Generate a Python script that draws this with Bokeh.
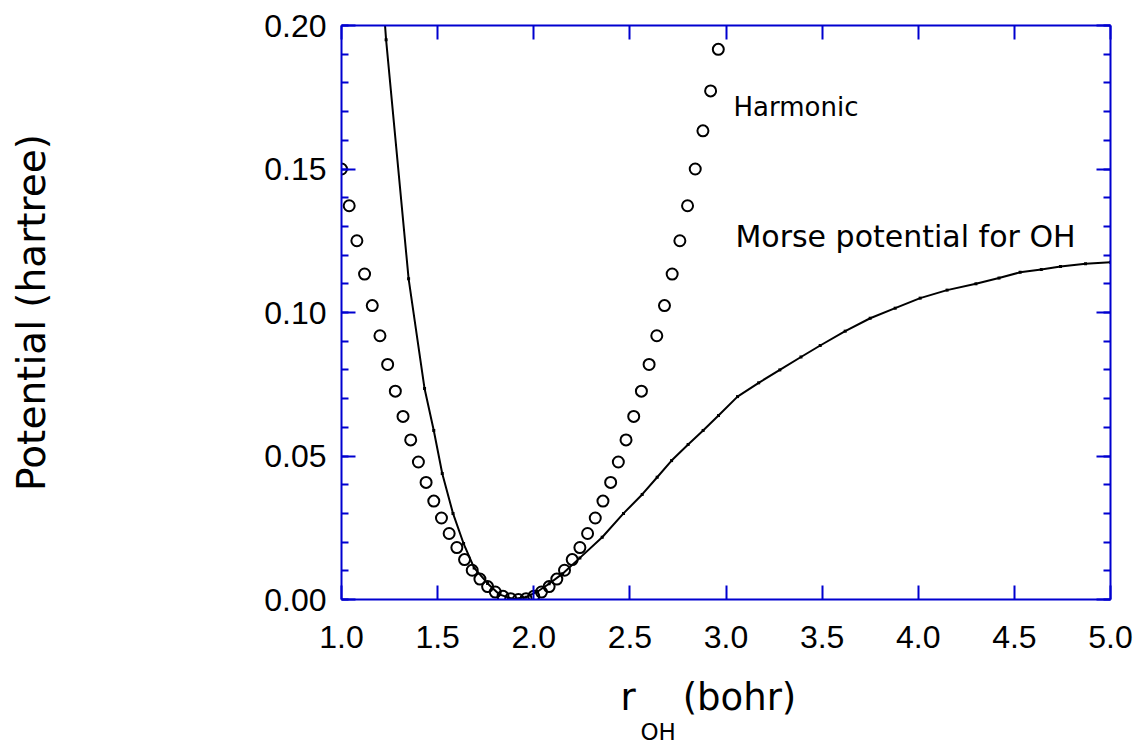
import math
from bokeh.plotting import figure
from bokeh.models import (Range1d, LinearAxis, SingleIntervalTicker, PrintfTickFormatter, Label, Title, ColumnDataSource)
from bokeh.embed import file_html
from bokeh.resources import INLINE

# Harmonic approximation (open circles)
harm_r = [1.00, 1.04, 1.08, 1.12, 1.16, 1.20, 1.24, 1.28, 1.32, 1.36,
          1.40, 1.44, 1.48, 1.52, 1.56, 1.60, 1.64, 1.68, 1.72, 1.76,
          1.80, 1.84, 1.88, 1.92, 1.96, 2.00, 2.04, 2.08, 2.12, 2.16,
          2.20, 2.24, 2.28, 2.32, 2.36, 2.40, 2.44, 2.48, 2.52, 2.56,
          2.60, 2.64, 2.68, 2.72, 2.76, 2.80, 2.84, 2.88, 2.92, 2.96]
harm_v = [0.1500, 0.1372, 0.1250, 0.1134, 0.1024, 0.0919, 0.0819, 0.0726, 0.0638, 0.0556,
          0.0479, 0.0408, 0.0343, 0.0284, 0.0230, 0.0181, 0.0139, 0.0102, 0.0071, 0.0045,
          0.0026, 0.0011, 0.0003, 0.0000, 0.0003, 0.0011, 0.0026, 0.0045, 0.0071, 0.0102,
          0.0139, 0.0181, 0.0230, 0.0284, 0.0343, 0.0408, 0.0479, 0.0556, 0.0638, 0.0726,
          0.0819, 0.0919, 0.1024, 0.1134, 0.1250, 0.1372, 0.1500, 0.1633, 0.1772, 0.1917]

# Morse potential for OH (line)
morse_r = [1.200, 1.232, 1.349, 1.432, 1.480, 1.524, 1.580, 1.635, 1.690, 1.760,
           1.820, 1.890, 1.960, 2.020, 2.080, 2.150, 2.240, 2.356, 2.467, 2.564,
           2.642, 2.717, 2.803, 2.881, 2.961, 3.060, 3.170, 3.280, 3.390, 3.490,
           3.620, 3.750, 3.880, 4.010, 4.150, 4.300, 4.420, 4.530, 4.640, 4.740,
           4.870, 5.000]
morse_v = [0.2240, 0.1950, 0.1118, 0.0735, 0.0589, 0.0439, 0.0300, 0.0195, 0.0110, 0.0056,
           0.0018, 0.0002, 0.0008, 0.0028, 0.0055, 0.0090, 0.0145, 0.0217, 0.0300, 0.0366,
           0.0426, 0.0484, 0.0540, 0.0589, 0.0641, 0.0707, 0.0755, 0.0800, 0.0845, 0.0885,
           0.0935, 0.0980, 0.1015, 0.1050, 0.1078, 0.1100, 0.1120, 0.1140, 0.1150, 0.1160,
           0.1170, 0.1175]

x_ticks_interval = 0.5
y_ticks_interval = 0.05

BLUE = "#0000D0"
TICK_FONT = "Liberation Sans"
TEXT_FONT = "DejaVu Sans"
NB = "\u00a0"

p = figure(width=1136, height=743, output_backend="svg", toolbar_location=None,
           x_range=Range1d(1.0, 5.0), y_range=Range1d(0.0, 0.20),
           min_border_left=341, min_border_right=26, min_border_top=25, min_border_bottom=144,
           x_axis_type=None, y_axis_type=None)
p.outline_line_color = None
p.grid.visible = False
p.background_fill_color = "white"
p.border_fill_color = "white"


def style_axis(ax, show_labels, minor, fmt):
    ax.axis_line_color = BLUE
    ax.axis_line_width = 2
    ax.major_tick_line_color = BLUE
    ax.major_tick_line_width = 2
    ax.major_tick_in = 14
    ax.major_tick_out = 0
    if minor:
        ax.minor_tick_line_color = BLUE
        ax.minor_tick_line_width = 2
        ax.minor_tick_in = 7
        ax.minor_tick_out = 0
    else:
        ax.minor_tick_line_color = None
    ax.formatter = PrintfTickFormatter(format=fmt)
    if show_labels:
        ax.major_label_text_font = TICK_FONT
        ax.major_label_text_font_size = "32px"
        ax.major_label_text_color = "black"
    else:
        ax.major_label_text_color = None
        ax.major_label_text_font_size = "1px"
        ax.major_label_standoff = 0


xb = LinearAxis(ticker=SingleIntervalTicker(interval=x_ticks_interval, num_minor_ticks=0))
style_axis(xb, True, False, "%.1f")
xb.major_label_standoff = 26
# x-axis title: "r" + subscript "OH" + "(bohr)"
xb.axis_label = "r" + NB * 4 + "(bohr)" + NB * 3
xb.axis_label_text_font = TEXT_FONT
xb.axis_label_text_font_size = "37px"
xb.axis_label_text_font_style = "normal"
xb.axis_label_text_color = "black"
xb.axis_label_standoff = 25

xt = LinearAxis(ticker=SingleIntervalTicker(interval=x_ticks_interval, num_minor_ticks=0))
style_axis(xt, False, False, "%.1f")
yl = LinearAxis(ticker=SingleIntervalTicker(interval=y_ticks_interval, num_minor_ticks=5))
style_axis(yl, True, True, "%.2f")
yl.major_label_standoff = 15
yl.axis_label = "Potential (hartree)"
yl.axis_label_text_font = TEXT_FONT
yl.axis_label_text_font_size = "39px"
yl.axis_label_text_font_style = "normal"
yl.axis_label_text_color = "black"
yl.axis_label_standoff = 207
yr = LinearAxis(ticker=SingleIntervalTicker(interval=y_ticks_interval, num_minor_ticks=5))
style_axis(yr, False, True, "%.2f")

p.add_layout(xb, "below")
p.add_layout(xt, "above")
p.add_layout(yl, "left")
p.add_layout(yr, "right")

p.add_layout(Title(text="OH", align="left", offset=299, standoff=-6, vertical_align="top",
                   text_font=TEXT_FONT, text_font_size="23px", text_font_style="normal",
                   text_color="black"), "below")

harm = ColumnDataSource(dict(r=harm_r, v=harm_v))
morse = ColumnDataSource(dict(r=morse_r, v=morse_v))

p.line("r", "v", source=morse, line_color="black", line_width=2)
p.scatter("r", "v", source=morse, marker="square", size=3, fill_color="black", line_color=None)
p.scatter("r", "v", source=harm, marker="circle", size=11, fill_color=None,
          line_color="black", line_width=2)

# annotations (data coordinates)
p.add_layout(Label(x=3.039, y=0.1717, text="Harmonic", text_font=TEXT_FONT,
                   text_font_size="26px", text_color="black", text_baseline="alphabetic"))
p.add_layout(Label(x=3.049, y=0.1264, text="Morse potential for OH", text_font=TEXT_FONT,
                   text_font_size="30px", text_color="black", text_baseline="alphabetic"))

open("out.html", "w").write(file_html(p, INLINE))
